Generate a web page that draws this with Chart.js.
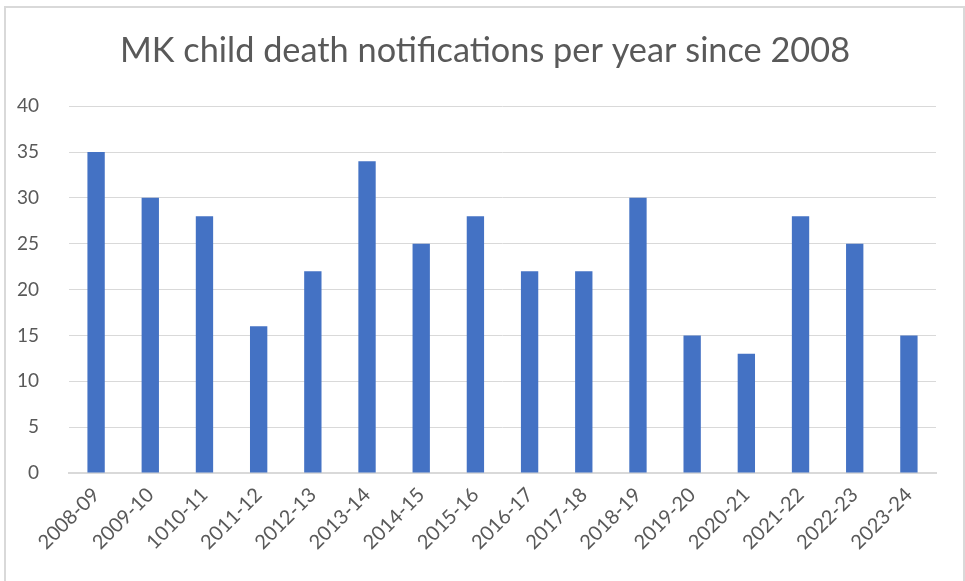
<!DOCTYPE html>
<html>
<head>
<meta charset="utf-8">
<script src="https://cdn.jsdelivr.net/npm/chart.js@4"></script>
<style>
  html, body { margin: 0; padding: 0; background: #fff; }
  #frame {
    position: absolute; left: 4px; top: 6px; width: 957px; height: 580px;
    border: 2px solid #d9d9d9; border-bottom: none;
  }
  #wrap { position: absolute; left: 0; top: 0; width: 965px; height: 581px; }
</style>
</head>
<body>
<div id="frame"></div>
<div id="wrap"><canvas id="deaths"></canvas></div>
<script>
const years = ["2008-09", "2009-10", "1010-11", "2011-12", "2012-13", "2013-14", "2014-15", "2015-16",
               "2016-17", "2017-18", "2018-19", "2019-20", "2020-21", "2021-22", "2022-23", "2023-24"];
const notifications = [35, 30, 28, 16, 22, 34, 25, 28, 22, 22, 30, 15, 13, 28, 25, 15];
const yTicks = [0, 5, 10, 15, 20, 25, 30, 35, 40];

const grey = "#595959";
const fontName = "Lato, 'Open Sans', sans-serif";

// nudge the title so it sits centred on the whole frame, not the padded box
const titleShift = {
    id: "titleShift",
    afterLayout(chart) {
        const t = chart.titleBlock;
        if (t) { t.left += 17; t.right += 17; }
    }
};

new Chart(document.getElementById("deaths").getContext("2d"), {
    type: "bar",
    data: {
        labels: years,
        datasets: [{
            label: "Notifications",
            data: notifications,
            backgroundColor: "#4472c4",
            barPercentage: 0.32,
            categoryPercentage: 1
        }]
    },
    options: {
        responsive: true,
        maintainAspectRatio: false,
        animation: false,
        layout: { padding: { left: 0, right: 29, top: 30, bottom: 0 } },
        plugins: {
            legend: { display: false },
            tooltip: { enabled: false },
            title: {
                display: true,
                text: "MK child death notifications per year since 2008",
                color: grey,
                font: { family: fontName, size: 34.3, weight: "normal" },
                padding: { top: 0, bottom: 35 }
            }
        },
        scales: {
            x: {
                grid: { display: false, drawTicks: false },
                border: { display: true, color: "#d9d9d9", width: 2 },
                ticks: {
                    color: grey,
                    font: { family: fontName, size: 20 },
                    minRotation: 45, maxRotation: 45,
                    padding: 10,
                    autoSkip: false
                },
                afterFit: axis => { axis.height = 108; }
            },
            y: {
                min: 0, max: 40,
                afterBuildTicks: axis => { axis.ticks = yTicks.map(v => ({ value: v })); },
                grid: { color: "#d9d9d9", lineWidth: 1, drawTicks: false },
                border: { display: false },
                ticks: {
                    color: grey,
                    font: { family: fontName, size: 19 },
                    padding: 30
                },
                afterFit: axis => { axis.width = 69; }
            }
        }
    },
    plugins: [titleShift]
});
</script>
</body>
</html>
